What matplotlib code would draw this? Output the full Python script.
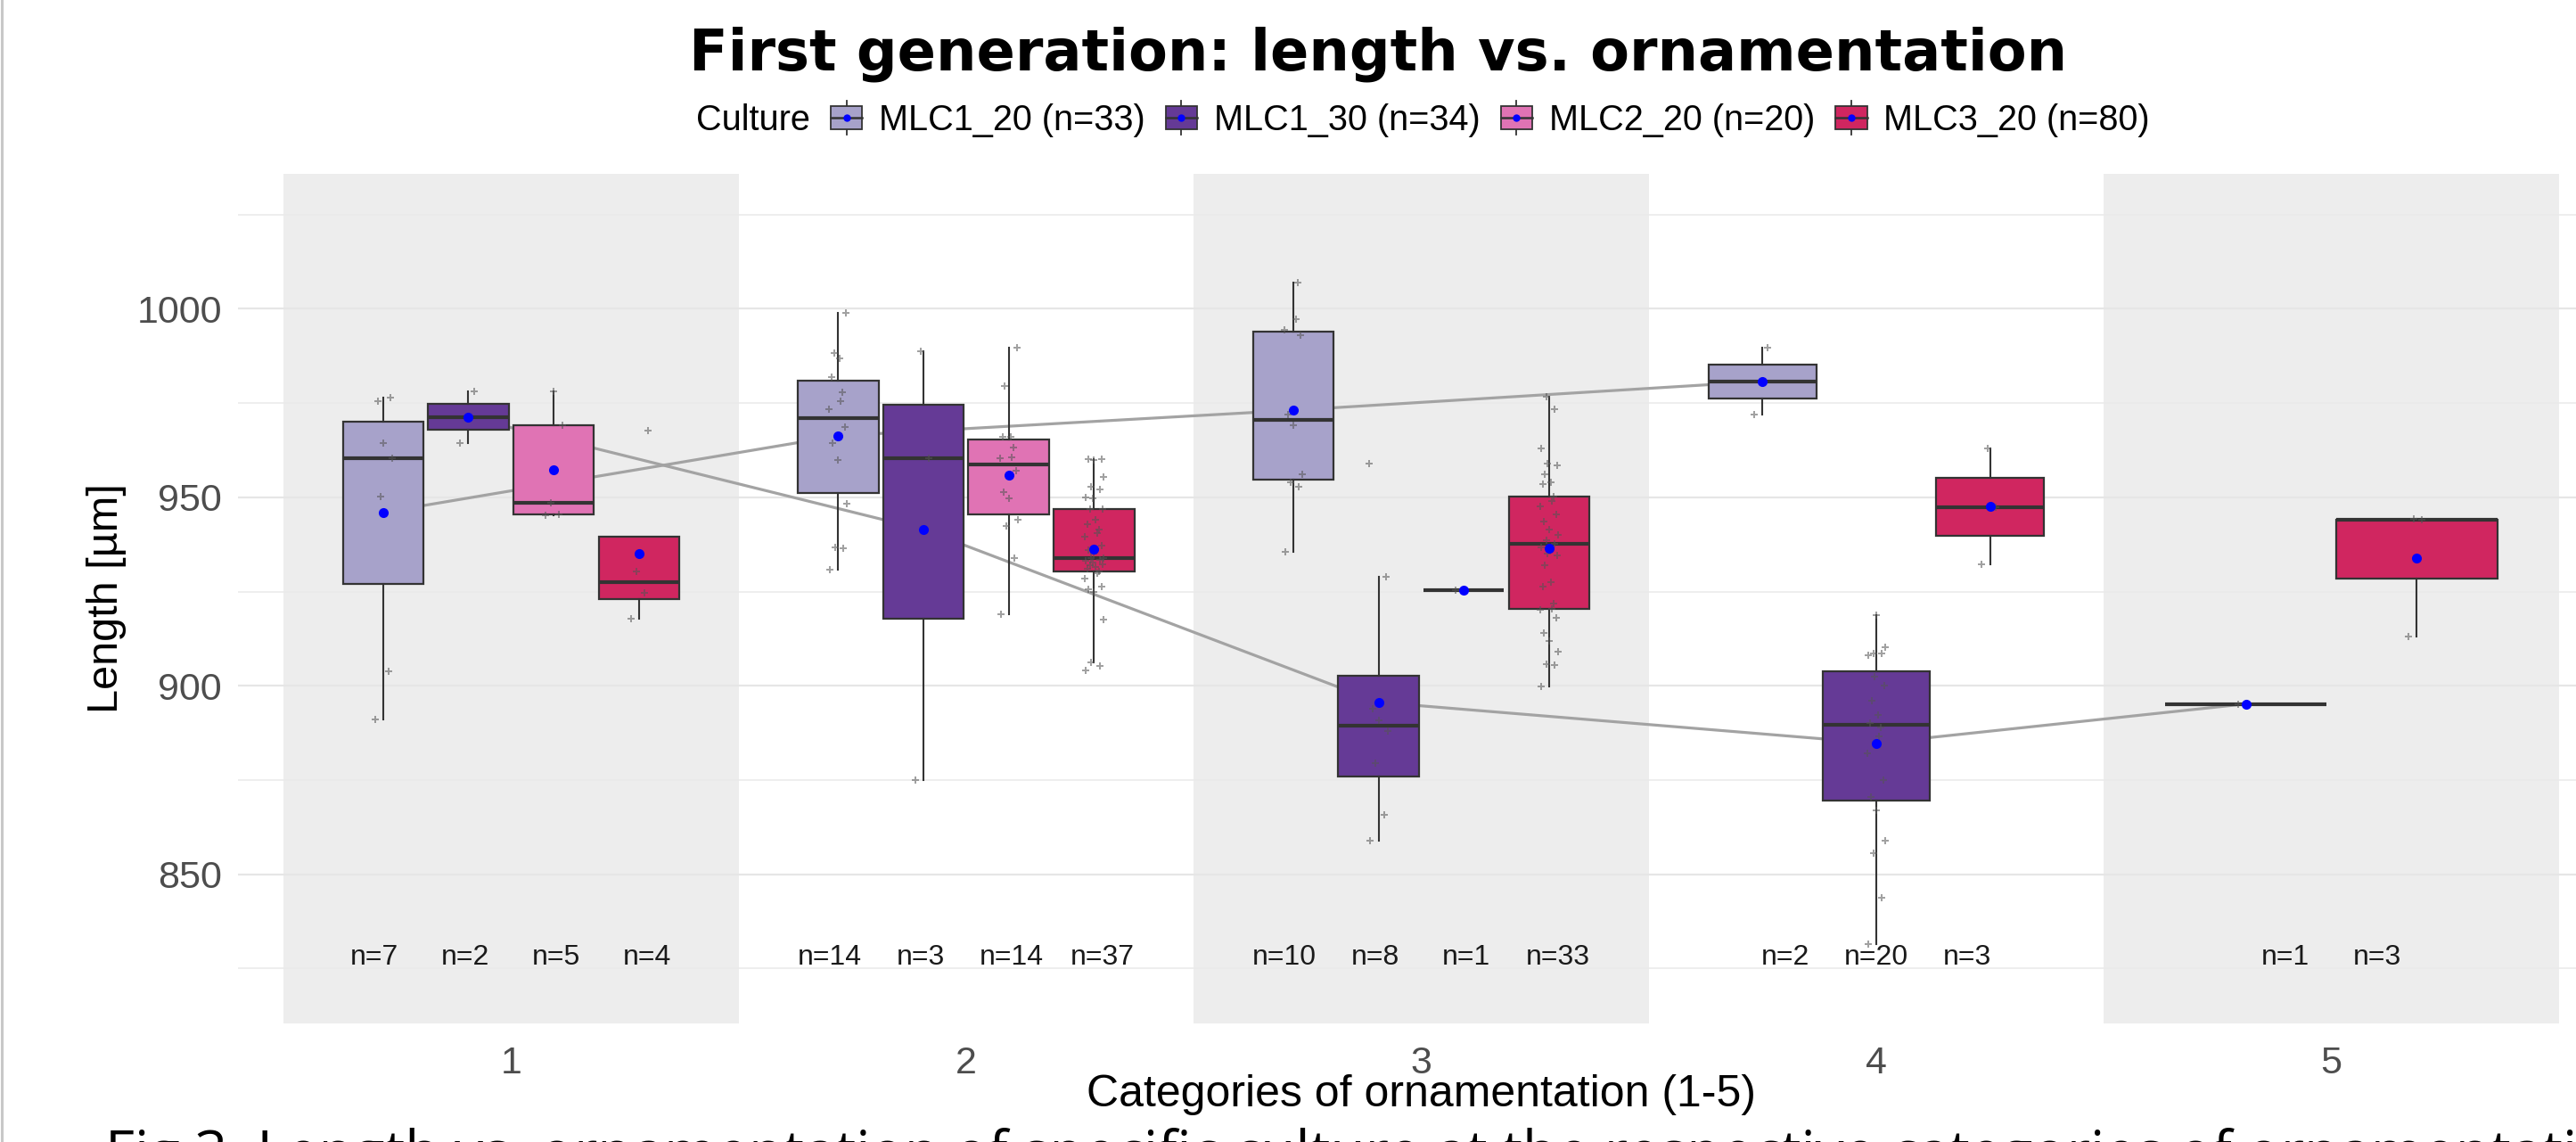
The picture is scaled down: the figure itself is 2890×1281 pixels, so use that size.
import numpy as np
import matplotlib
matplotlib.use("Agg")
import matplotlib.pyplot as plt
from matplotlib.cbook import boxplot_stats
from matplotlib.patches import Rectangle
from matplotlib.lines import Line2D
from matplotlib.legend_handler import HandlerBase

# ---------------- data ----------------
categories = [1, 2, 3, 4, 5]
category_labels = ["1", "2", "3", "4", "5"]
cultures = ["MLC1_20", "MLC1_30", "MLC2_20", "MLC3_20"]
culture_colors = ["#A7A2CA", "#653A96", "#E073B4", "#D02660"]

mlc1_20 = {
    1: [891.2, 903.9, 950.3, 960.3, 964.4, 975.5, 976.5],
    2: [930.9, 936.5, 936.7, 948.4, 959.8, 964.5, 968.7, 973.4, 975.4, 977.8,
        982.0, 986.9, 988.2, 999.0],
    3: [935.6, 952.7, 954.1, 956.0, 969.1, 971.9, 993.0, 994.4, 997.2, 1007.0],
    4: [971.9, 989.6],
}
mlc1_30 = {
    1: [964.4, 978.2],
    2: [875.1, 960.4, 988.8],
    3: [859.0, 865.8, 879.4, 888.0, 890.8, 894.0, 929.0, 959.0],
    4: [831.5, 843.7, 855.5, 859.0, 866.9, 870.6, 875.1, 882.2, 886.7, 889.0,
        890.2, 892.2, 896.0, 900.1, 902.5, 908.0, 908.5, 908.7, 910.2, 918.7],
    5: [895.2],
}
mlc2_20 = {
    1: [945.2, 945.4, 948.6, 969.2, 978.2],
    2: [919.1, 933.8, 942.3, 944.0, 949.8, 951.4, 957.0, 960.4, 960.7, 963.2,
        966.0, 966.1, 979.6, 989.6],
    3: [925.4],
}
mlc3_20 = {
    1: [917.8, 924.7, 930.3, 967.8],
    2: [904.0, 905.2, 906.1, 917.6, 924.8, 925.6, 926.3, 928.5, 929.9, 930.4,
        931.0, 931.6, 932.1, 932.3, 932.8, 933.2, 933.5, 933.9, 934.0, 935.0,
        936.0, 937.2, 939.6, 940.5, 941.4, 942.8, 944.1, 946.9, 947.0, 949.8,
        950.0, 952.0, 952.8, 955.5, 959.8, 960.1, 960.1],
    3: [899.8, 905.4, 905.8, 909.1, 912.0, 914.0, 918.0, 920.2, 920.5, 921.8,
        926.3, 927.6, 932.0, 934.5, 935.0, 936.7, 937.6, 938.5, 940.1, 941.5,
        943.5, 945.5, 947.5, 949.0, 950.25, 953.5, 954.1, 956.0, 958.4, 959.0,
        963.0, 973.4, 976.8],
    4: [932.3, 947.4, 963.0],
    5: [913.0, 944.0, 944.3],
}
series = [mlc1_20, mlc1_30, mlc2_20, mlc3_20]
mean_line_cultures = ["MLC1_20", "MLC1_30"]

y_major = [850, 900, 950, 1000]
y_minor = [825, 875, 925, 975, 1025]
n_label_y = 828

# ---------------- styling ----------------
FONT = "Liberation Sans"
EDGE = "#333333"
jitter = [-0.018, 0.012, -0.006, 0.02, 0.0, -0.012, 0.016, -0.02, 0.006,
          0.01, -0.014, 0.004, -0.009, 0.018, -0.003]

W, H = 2890, 1281
fig = plt.figure(figsize=(W / 100, H / 100), dpi=100)
fig.patch.set_facecolor("white")

ax_left, ax_right, ax_top, ax_bottom = 267, 2921.8, 195, 1148
ax = fig.add_axes([ax_left / W, 1 - ax_bottom / H,
                   (ax_right - ax_left) / W, (ax_bottom - ax_top) / H])
ax.set_xlim(0.4, 5.6)
ax.set_ylim(810.45, 1035.8)
ax.set_facecolor("white")

# alternating shaded categories
for cat in categories[::2]:
    ax.axvspan(cat - 0.5, cat + 0.5, color="#EDEDED", lw=0, zorder=0)

# grid
ax.set_axisbelow(True)
ax.set_yticks(y_major)
ax.set_yticks(y_minor, minor=True)
ax.grid(which="major", axis="y", color="#E6E6E6", lw=1.6)
ax.grid(which="minor", axis="y", color="#EAEAEA", lw=1.1)
ax.grid(which="major", axis="x", visible=False)

# dodge positions (boxes) and label positions
positions = {}
label_x = {}
for cat in categories:
    present = [i for i, s in enumerate(series) if cat in s]
    n = len(present)
    slot = 0.75 / n
    for k, i in enumerate(present):
        positions[(i, cat)] = (cat + (k - (n - 1) / 2) * slot, slot * 0.945)
        label_x[(i, cat)] = cat + (k - (n - 1) / 2) * 0.2

# mean connection lines
for name in mean_line_cultures:
    i = cultures.index(name)
    cats = sorted(series[i].keys())
    xs = [positions[(i, c)][0] for c in cats]
    ys = [np.mean(series[i][c]) for c in cats]
    ax.plot(xs, ys, color="#A3A3A3", lw=2.3, zorder=1.5, solid_capstyle="butt")

# boxes, points, means, n labels
for i, s in enumerate(series):
    for cat, vals in s.items():
        x, w = positions[(i, cat)]
        st = boxplot_stats(vals, whis=1.5)
        ax.bxp(st, positions=[x], widths=[w], patch_artist=True,
               showfliers=False, showcaps=False, showmeans=False,
               manage_ticks=False, zorder=2,
               boxprops=dict(facecolor=culture_colors[i], edgecolor=EDGE, linewidth=1.6),
               medianprops=dict(color=EDGE, linewidth=3.0, solid_capstyle="butt"),
               whiskerprops=dict(color=EDGE, linewidth=1.5))
        xs = [x + jitter[j % len(jitter)] for j in range(len(vals))]
        ax.plot(xs, vals, ls="none", marker="P", ms=6, color="#555555",
                alpha=0.55, mew=0, zorder=3)
        ax.plot([x], [np.mean(vals)], ls="none", marker="o", ms=8,
                color="#0000FF", mew=0, zorder=4)
        ax.text(label_x[(i, cat)], n_label_y, f"n={len(vals)}", ha="center",
                va="center", fontsize=23, color="#1A1A1A", family=FONT, zorder=5)

# axes cosmetics
for sp in ax.spines.values():
    sp.set_visible(False)
ax.set_xticks(categories)
ax.set_xticklabels(category_labels)
ax.tick_params(axis="both", which="both", length=0)
ax.tick_params(axis="y", pad=13, labelsize=31, labelcolor="#4D4D4D")
ax.tick_params(axis="x", pad=18, labelsize=31, labelcolor="#4D4D4D")
for lab in ax.get_xticklabels() + ax.get_yticklabels():
    lab.set_family(FONT)

ax.set_ylabel("Length [µm]", fontsize=35, family=FONT, color="black")
ax.yaxis.set_label_coords((120 - ax_left) / (ax_right - ax_left), 0.5)
ax.yaxis.label.set_va("center")
ax.set_xlabel("Categories of ornamentation (1-5)", fontsize=36, family=FONT,
              color="black")
ax.xaxis.set_label_coords(0.5, (ax_bottom - 1228) / (ax_bottom - ax_top))
ax.xaxis.label.set_va("center")

# title
fig.text(1546 / W, 1 - 79 / H, "First generation: length vs. ornamentation",
         fontsize=46, fontweight="bold", family="DejaVu Sans",
         ha="center", va="baseline")


# legend with boxplot-style keys
class BoxKey(HandlerBase):
    def create_artists(self, legend, orig_handle, xdescent, ydescent,
                       width, height, fontsize, trans):
        fc = orig_handle.get_facecolor()
        x0, y0 = -xdescent, -ydescent
        cx, cy = x0 + width / 2, y0 + height / 2
        whisk = Line2D([cx, cx], [cy - 0.75 * height, cy + 0.75 * height],
                       color=EDGE, lw=1.3, transform=trans)
        rect = Rectangle((x0, cy - height / 2), width, height, facecolor=fc,
                         edgecolor=EDGE, lw=1.3, transform=trans)
        med = Line2D([x0, x0 + width], [cy, cy], color=EDGE, lw=1.8,
                     transform=trans)
        dot = Line2D([cx], [cy], marker="o", ms=6, color="#0000FF", ls="none",
                     mew=0, transform=trans)
        return [whisk, rect, med, dot]


handles = [Rectangle((0, 0), 1, 1, facecolor=c) for c in culture_colors]
labels = [f"{name} (n={sum(len(v) for v in s.values())})"
          for name, s in zip(cultures, series)]
leg_y = 1 - 135 / H
fig.legend(handles, labels, handler_map={Rectangle: BoxKey()},
           loc="center left", bbox_to_anchor=(931.7 / W, leg_y), ncol=4,
           frameon=False, prop={"family": FONT, "size": 28.5},
           handlelength=0.9, handleheight=0.62, handletextpad=0.47,
           columnspacing=0.58, borderpad=0, borderaxespad=0)
fig.text(909 / W, leg_y, "Culture", ha="right", va="center", fontsize=28.5,
         family=FONT)

# screenshot border and cropped caption
fig.add_artist(Line2D([1.5 / W, 1.5 / W], [0, 1], transform=fig.transFigure,
                      color="#C8C8C8", lw=2.2))
fig.text(118 / W, 1 - 1314 / H,
         "Fig 3. Length vs. ornamentation of specific culture at the respective categories of ornamentation",
         fontsize=46, family="Open Sans", ha="left", va="baseline")

fig.savefig("out.png", dpi=100)
